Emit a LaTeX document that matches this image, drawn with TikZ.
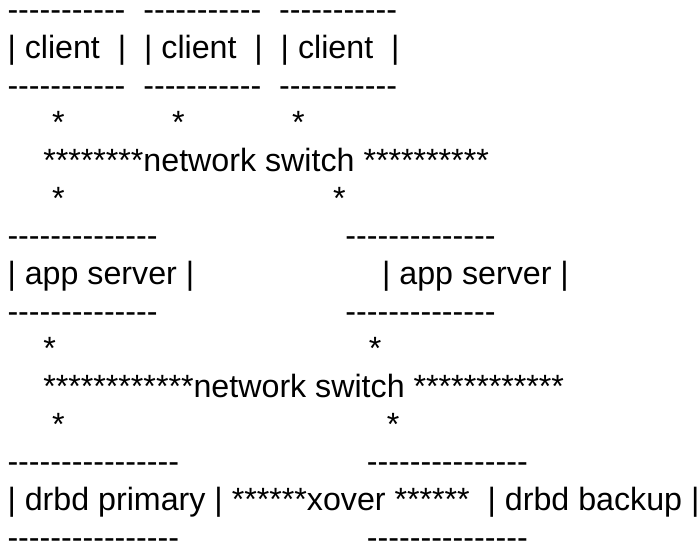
\documentclass[tikz,border=0pt]{standalone}
\usepackage{fontspec}
\newfontfamily\asc{Liberation Sans}[Ligatures=TeXOff]
\begin{document}
\begin{tikzpicture}[x=1pt,y=1pt,
  ln/.style={anchor=base west,inner sep=0pt,outer sep=0pt,font=\asc\fontsize{32.2}{38}\selectfont}]
\useasboundingbox (0,0) rectangle (699,-543);
\def\xo{7.5}
\def\yo{21}
\def\lh{37.65}
\node[ln] (l1) at (\xo,{-\yo-0*\lh}) {-----------~~-----------~~-----------};
\node[ln] (l2) at (\xo,{-\yo-1*\lh}) {|~client~~|~~|~client~~|~~|~client~~|};
\node[ln] (l3) at (\xo,{-\yo-2*\lh}) {-----------~~-----------~~-----------};
\node[ln] (l4) at (\xo,{-\yo-3*\lh}) {~~~~~*~~~~~~~~~~~~*~~~~~~~~~~~~*};
\node[ln] (l5) at (\xo,{-\yo-4*\lh}) {~~~~********network switch **********};
\node[ln] (l6) at (\xo,{-\yo-5*\lh}) {~~~~~*~~~~~~~~~~~~~~~~~~~~~~~~~~~~~~*};
\node[ln] (l7) at (\xo,{-\yo-6*\lh}) {--------------~~~~~~~~~~~~~~~~~~~~~--------------};
\node[ln] (l8) at (\xo,{-\yo-7*\lh}) {|~app server~|~~~~~~~~~~~~~~~~~~~~~|~app server~|};
\node[ln] (l9) at (\xo,{-\yo-8*\lh}) {--------------~~~~~~~~~~~~~~~~~~~~~--------------};
\node[ln] (l10) at (\xo,{-\yo-9*\lh}) {~~~~*~~~~~~~~~~~~~~~~~~~~~~~~~~~~~~~~~~~*};
\node[ln] (l11) at (\xo,{-\yo-10*\lh}) {~~~~************network switch ************};
\node[ln] (l12) at (\xo,{-\yo-11*\lh}) {~~~~~*~~~~~~~~~~~~~~~~~~~~~~~~~~~~~~~~~~~~*};
\node[ln] (l13) at (\xo,{-\yo-12*\lh}) {----------------~~~~~~~~~~~~~~~~~~~~~---------------};
\node[ln] (l14) at (\xo,{-\yo-13*\lh}) {|~drbd primary~|~******xover~******~~|~drbd backup~|};
\node[ln] (l15) at (\xo,{-\yo-14*\lh}) {----------------~~~~~~~~~~~~~~~~~~~~~---------------};
\end{tikzpicture}
\end{document}
